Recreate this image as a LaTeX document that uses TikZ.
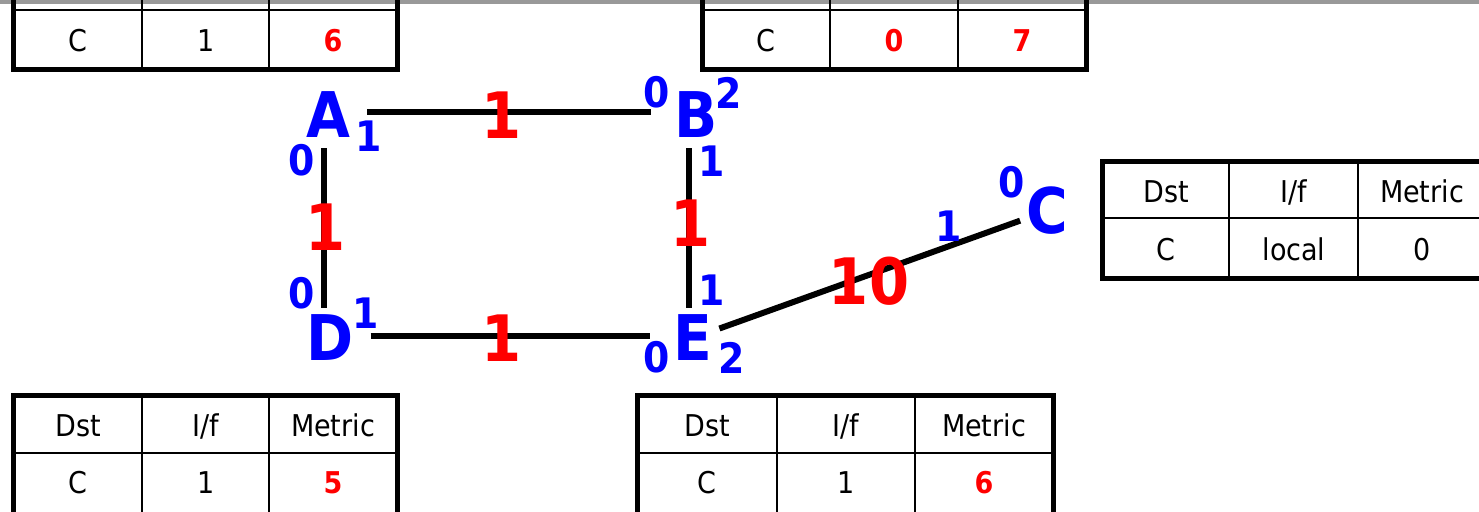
\documentclass[tikz,border=0pt]{standalone}
\usepackage{fontspec}
\setmainfont{DejaVu Sans Condensed}
\usepackage{xcolor}
\usepackage{tikz}
\usetikzlibrary{positioning, calc}
\definecolor{portBlue}{RGB}{0, 0, 255}
\definecolor{costRed}{RGB}{255, 0, 0}
\definecolor{barGray}{RGB}{153, 153, 153}

\begin{document}
\begin{tikzpicture}[x=1pt, y=-1pt,
    router/.style={text=portBlue, font=\fontsize{63}{63}\selectfont\bfseries, inner sep=4pt},
    port/.style={text=portBlue, font=\fontsize{42}{42}\selectfont\bfseries, inner sep=0pt},
    cost/.style={text=costRed, font=\fontsize{64}{64}\selectfont\bfseries, inner sep=0pt},
    link/.style={line width=6pt, black},
    frame/.style={draw=black, line width=5pt},
    rule/.style={draw=black, line width=2.5pt},
    cell/.style={font=\fontsize{30}{30}\selectfont, text height=22pt, text depth=0pt, inner sep=0pt},
    upd/.style={cell, text=costRed, font=\fontsize{30}{30}\selectfont\bfseries}]
    \useasboundingbox (0,0) rectangle (1479,511);
    \clip (0,0) rectangle (1479,511);
    % Title bar edge
    \fill[barGray] (0,0) rectangle (1479,4);
    % Routers
    \node[router] (A) at (328,115) {A};
    \node[router] (B) at (696,115) {B};
    \node[router] (C) at (1047,211) {C};
    \node[router] (D) at (330,338) {D};
    \node[router] (E) at (693,338) {E};
    % Links
    \draw[link, shorten <=13pt, shorten >=19pt] ([yshift=3pt]A.east) -- ([yshift=3pt]A.east -| B.west);
    \draw[link, shorten <=13pt, shorten >=19pt] ([yshift=2pt]D.east) -- ([yshift=2pt]D.east -| E.west);
    \draw[link, shorten <=6pt, shorten >=3pt] ([xshift=-4pt]A.south) -- ([xshift=-4pt]A.south |- D.north);
    \draw[link, shorten <=6pt, shorten >=3pt] ([xshift=-7pt]B.south) -- ([xshift=-7pt]B.south |- E.north);
    \draw[link, shorten <=3pt, shorten >=2pt] (E) -- (C);
    % Link costs
    \node[cost] (cAB) at (502,115) {1};
    \node[cost] (cAD) at (326,227) {1};
    \node[cost] (cBE) at (691,223) {1};
    \node[cost] (cDE) at (502,338) {1};
    \node[cost] (cEC) at (869,281) {10};
    % Interface numbers
    \node[port] (A0) at (302,160) {0};
    \node[port] (A1) at (369,136) {1};
    \node[port] (B0) at (657,92) {0};
    \node[port] (B2) at (729,93) {2};
    \node[port] (B1) at (712,161) {1};
    \node[port] (D0) at (302,293) {0};
    \node[port] (D1) at (366,313) {1};
    \node[port] (E1) at (712,290) {1};
    \node[port] (E0) at (657,357) {0};
    \node[port] (E2) at (732,358) {2};
    \node[port] (C0) at (1012,182) {0};
    \node[port] (C1) at (949,226) {1};
    % Table of A (top left)
    \draw[frame] (13,-50) rectangle (397,69);
    \draw[rule] (13,10) -- (397,10);
    \draw[rule] (142,-50) -- (142,69);
    \draw[rule] (269,-50) -- (269,69);
    \node[cell] (tA1) at (78,41) {C};
    \node[cell] (tA2) at (206,41) {1};
    \node[upd] (tA3) at (333,41) {6};
    % Table of B (top right)
    \draw[frame] (702,-50) rectangle (1086,69);
    \draw[rule] (702,10) -- (1086,10);
    \draw[rule] (830,-50) -- (830,69);
    \draw[rule] (958,-50) -- (958,69);
    \node[cell] (tB1) at (766,41) {C};
    \node[upd] (tB2) at (894,41) {0};
    \node[upd] (tB3) at (1022,41) {7};
    % Table of C (right)
    \draw[frame] (1102,161) rectangle (1489,278);
    \draw[rule] (1102,218) -- (1489,218);
    \draw[rule] (1229,161) -- (1229,278);
    \draw[rule] (1358,161) -- (1358,278);
    \node[cell] (tC1) at (1166,191) {Dst};
    \node[cell] (tC2) at (1294,191) {I/f};
    \node[cell] (tC3) at (1422,191) {Metric};
    \node[cell] (tC4) at (1166,249) {C};
    \node[cell] (tC5) at (1294,249) {local};
    \node[cell] (tC6) at (1422,249) {0};
    % Table of D (bottom left)
    \draw[frame] (13,395) rectangle (397,514);
    \draw[rule] (13,453) -- (397,453);
    \draw[rule] (142,395) -- (142,514);
    \draw[rule] (269,395) -- (269,514);
    \node[cell] (tD1) at (78,425) {Dst};
    \node[cell] (tD2) at (206,425) {I/f};
    \node[cell] (tD3) at (333,425) {Metric};
    \node[cell] (tD4) at (78,482) {C};
    \node[cell] (tD5) at (206,482) {1};
    \node[upd] (tD6) at (333,482) {5};
    % Table of E (bottom right)
    \draw[frame] (637,395) rectangle (1053,514);
    \draw[rule] (637,453) -- (1053,453);
    \draw[rule] (777,395) -- (777,514);
    \draw[rule] (915,395) -- (915,514);
    \node[cell] (tE1) at (707,425) {Dst};
    \node[cell] (tE2) at (846,425) {I/f};
    \node[cell] (tE3) at (984,425) {Metric};
    \node[cell] (tE4) at (707,482) {C};
    \node[cell] (tE5) at (846,482) {1};
    \node[upd] (tE6) at (984,482) {6};
\end{tikzpicture}
\end{document}
